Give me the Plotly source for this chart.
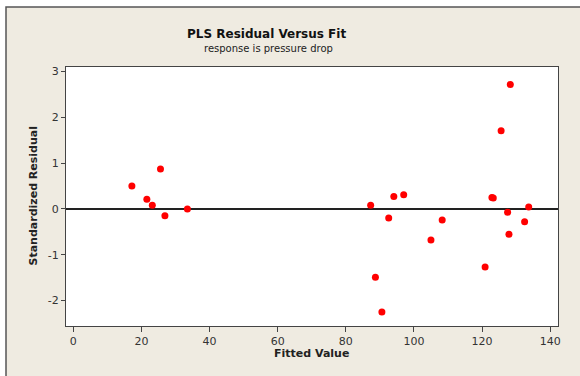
import plotly.graph_objects as go

fitted = [17.2, 21.6, 23.2, 25.6, 26.9, 33.5,
          87.3, 88.7, 90.6, 92.6, 94.1, 97.0, 105.0, 108.3,
          120.9, 122.9, 123.3, 125.6, 127.5, 127.9, 128.3, 132.5, 133.7]
resid = [0.50, 0.21, 0.08, 0.87, -0.15, 0.00,
         0.08, -1.49, -2.25, -0.20, 0.27, 0.31, -0.68, -0.24,
         -1.27, 0.25, 0.24, 1.71, -0.07, -0.55, 2.72, -0.28, 0.04]

x_ticks = [0, 20, 40, 60, 80, 100, 120, 140]
y_ticks = [-2, -1, 0, 1, 2, 3]

FONT = "DejaVu Sans"
W, H = 580, 376
L, R, T, B = 66, 22, 67, 50
pw, ph = W - L - R, H - T - B

def px(xp):
    return (xp - L) / pw

def py(yp):
    return (H - B - yp) / ph

fig = go.Figure()
fig.add_trace(go.Scatter(
    x=fitted, y=resid, mode="markers",
    marker=dict(color="#FF0000", size=7, line=dict(width=0)),
    hoverinfo="x+y", showlegend=False,
))

fig.update_layout(
    width=W, height=H,
    margin=dict(l=L, r=R, t=T, b=B, pad=0),
    paper_bgcolor="white",
    plot_bgcolor="white",
    font=dict(family=FONT, color="#333333"),
    shapes=[
        dict(type="rect", xref="paper", yref="paper",
             x0=px(6), x1=px(584), y0=py(380), y1=py(7),
             fillcolor="#EFEBE1", line=dict(color="#555555", width=1.5),
             layer="below"),
        dict(type="rect", xref="paper", yref="paper",
             x0=0, x1=1, y0=0, y1=1,
             fillcolor="white", line=dict(width=0),
             layer="below"),
    ],
    annotations=[
        dict(text="<b>PLS Residual Versus Fit</b>", xref="paper", yref="paper",
             x=px(266), y=py(34), xanchor="center", yanchor="middle",
             showarrow=False, font=dict(family=FONT, size=12, color="#111111")),
        dict(text="response is pressure drop", xref="paper", yref="paper",
             x=px(268), y=py(48.5), xanchor="center", yanchor="middle",
             showarrow=False, font=dict(family=FONT, size=10, color="#222222")),
        dict(text="<b>Standardized Residual</b>", xref="paper", yref="paper",
             x=px(32.5), y=py(196), xanchor="center", yanchor="middle",
             textangle=-90, showarrow=False,
             font=dict(family=FONT, size=11, color="#222222")),
        dict(text="<b>Fitted Value</b>", xref="paper", yref="paper",
             x=px(311.5), y=py(353), xanchor="center", yanchor="middle",
             showarrow=False, font=dict(family=FONT, size=11, color="#222222")),
    ],
    xaxis=dict(
        range=[-2.14, 142.3], tickvals=x_ticks, ticks="outside", ticklen=5,
        tickcolor="#444444", showline=True, linecolor="#444444", linewidth=1,
        mirror=True, showgrid=False, zeroline=False,
        tickfont=dict(family=FONT, size=11, color="#333333"),
    ),
    yaxis=dict(
        range=[-2.556, 3.10], tickvals=y_ticks,
        ticktext=[str(v) for v in y_ticks],
        ticks="outside", ticklen=4,
        tickcolor="#444444", showline=True, linecolor="#444444", linewidth=1,
        mirror=True, showgrid=False,
        zeroline=True, zerolinecolor="#222222", zerolinewidth=1.5,
        tickfont=dict(family=FONT, size=11, color="#333333"),
    ),
)

fig.write_html("out.html", config={"displayModeBar": False},
               post_script="document.body.style.margin='0';")
